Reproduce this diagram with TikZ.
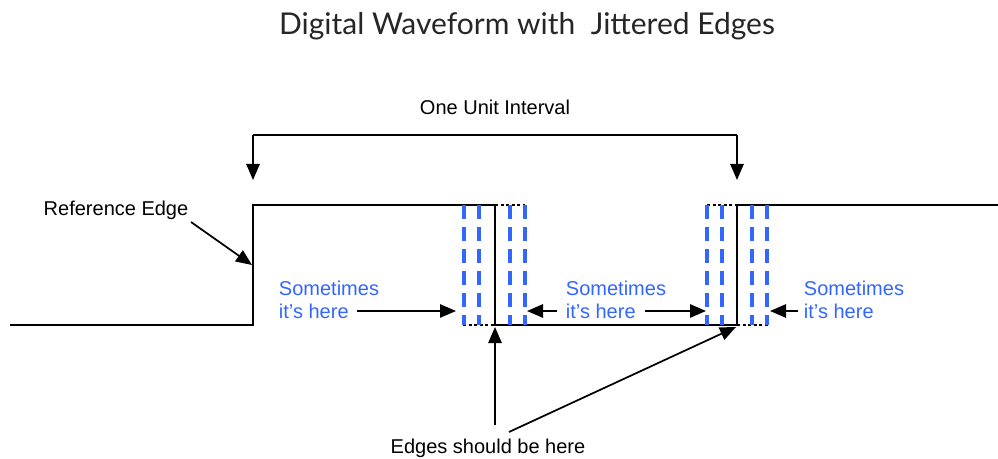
\documentclass[tikz,border=0pt]{standalone}
\usepackage{fontspec}
\setmainfont{Liberation Sans}
\newfontfamily\titlefont{Lato}
\usetikzlibrary{arrows.meta}
\definecolor{jblue}{RGB}{51,102,255}
\begin{document}
\begin{tikzpicture}[x=0.75pt,y=-0.75pt,
  wave/.style={line width=1.6pt},
  dotline/.style={line width=2.2pt, dash pattern=on 2.2pt off 2pt},
  jit/.style={draw=jblue, line width=2.5pt, dash pattern=on 10.5pt off 6pt},
  arr/.style={line width=1.3pt, -{Triangle[length=12pt,width=10pt]}},
  lbl/.style={font=\fontsize{15}{17.25}\selectfont, inner sep=0pt},
  blbl/.style={lbl, text=jblue, align=left}]
\useasboundingbox (0,0) rectangle (998,459);

% title
\node[inner sep=0pt, font=\titlefont\fontsize{22.5}{27}\selectfont, text=black!85] (title) at (527,26) {Digital Waveform with\ \ Jittered Edges};

% waveform
\draw[wave] (10,325) -- (253,325) -- (253,205) -- (495,205);
\draw[wave] (495,205) -- (495,325) -- (737,325);
\draw[wave] (737,205) -- (737,325);
\draw[wave] (737,205) -- (998,205);
\draw[dotline] (495,205) -- (525,205);
\draw[dotline] (463,325) -- (495,325);
\draw[dotline] (707,205) -- (737,205);
\draw[dotline] (737,325) -- (768,325);

% jitter lines
\foreach \x in {464,479,510,525,707,722,752,767}
  \draw[jit] (\x,205) -- (\x,325);

% unit interval bracket
\node[lbl] (ui) at (495,107) {One Unit Interval};
\coordinate (bl) at (253,180);
\coordinate (br) at (737,180);
\draw[arr] (253,135) -- (bl);
\draw[arr] (737,135) -- (br);
\draw[wave] (253,135) -- (737,135);

% reference edge
\node[lbl] (ref) at (116,210) {Reference Edge};
\coordinate (refend) at (252,265);
\draw[arr] (191,222) -- (refend);

% sometimes labels
\node[blbl] (s1) at (329,299.5) {Sometimes\\it’s here};
\node[blbl] (s2) at (616,299.5) {Sometimes\\it’s here};
\node[blbl] (s3) at (854,299.5) {Sometimes\\it’s here};
\coordinate (t1) at (456,311);
\coordinate (t2a) at (527,311);
\coordinate (t2b) at (706,311);
\coordinate (t3) at (770,311);
\draw[arr] (357,311) -- (t1);
\draw[arr] (557,311) -- (t2a);
\draw[arr] (645,311) -- (t2b);
\draw[arr] (798,311) -- (t3);

% edges should be here
\node[lbl] (esh) at (488,448) {Edges should be here};
\coordinate (e1) at (495,327);
\coordinate (e2) at (736,327);
\draw[arr] (495,425) -- (e1);
\draw[arr] (509,432) -- (e2);
\end{tikzpicture}
\end{document}
